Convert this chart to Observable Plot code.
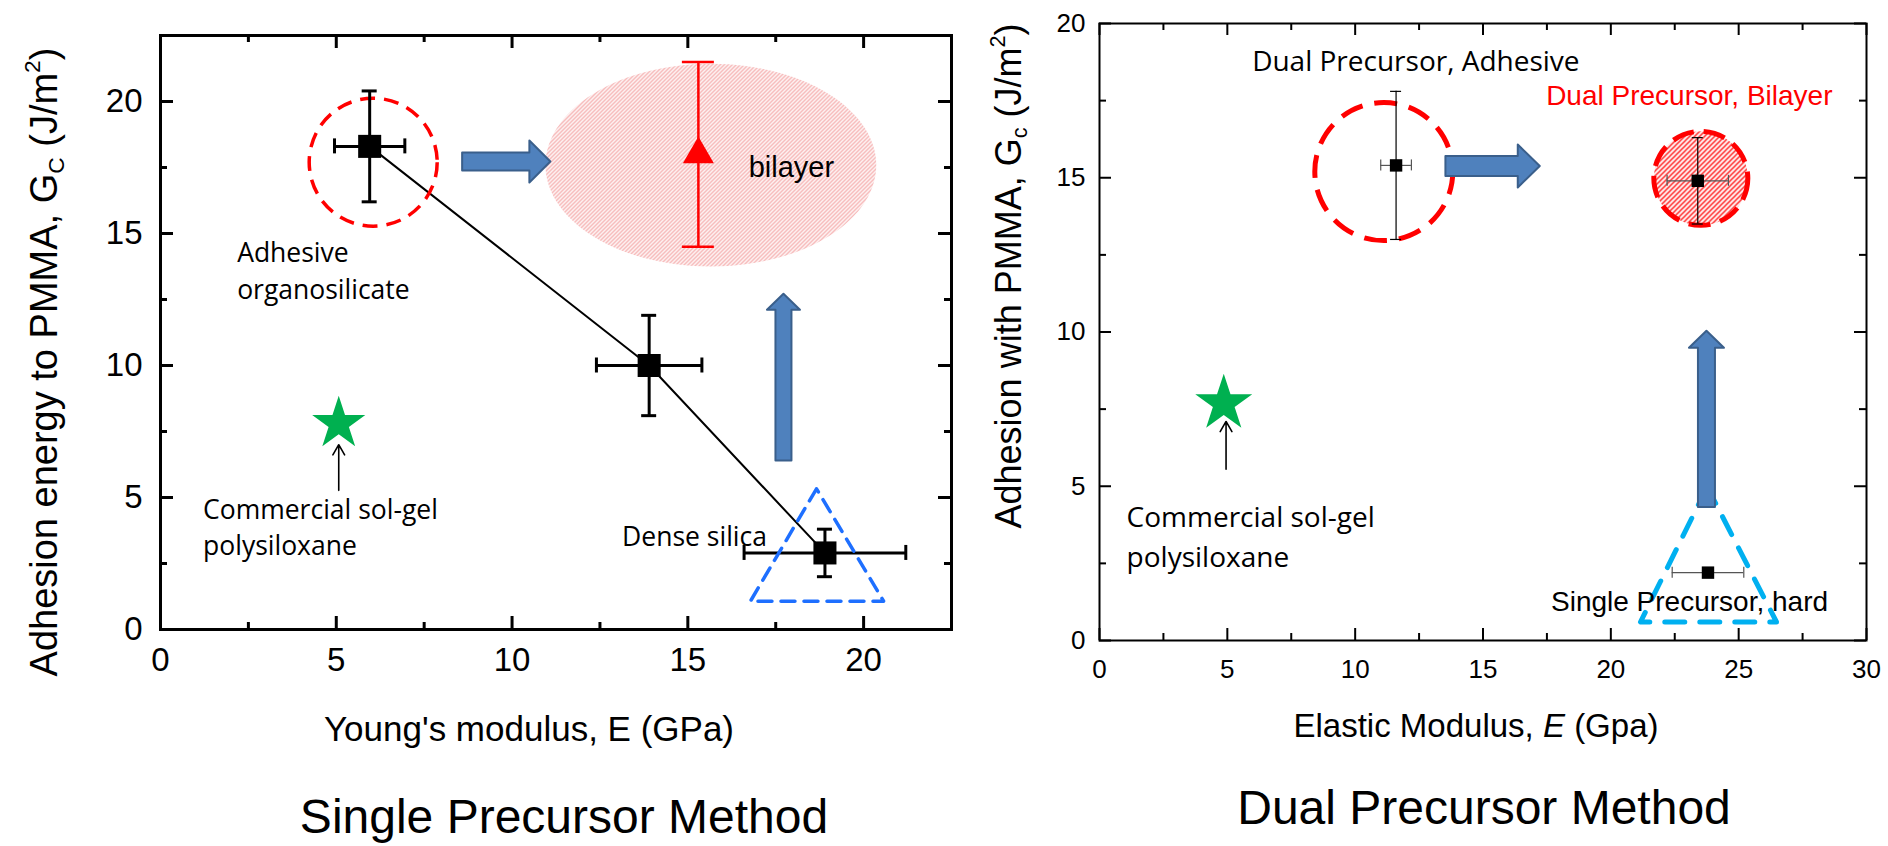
<!DOCTYPE html>
<html>
<head>
<meta charset="utf-8">
<script src="https://cdn.jsdelivr.net/npm/d3@7"></script>
<script src="https://cdn.jsdelivr.net/npm/@observablehq/plot@0.6"></script>
<style>
  html, body { margin: 0; padding: 0; background: #fff; overflow: hidden; }
  #wrap { position: relative; width: 1888px; height: 846px; background: #fff; }
  .panel { position: absolute; top: 0; }
  .lbl { position: absolute; white-space: nowrap; font-family: 'Liberation Sans', Arial, sans-serif; color: #000; line-height: 1; transform: translate(-50%, -50%); }
  .rot { transform: translate(-50%, -50%) rotate(-90deg); }
  .lbl sub, .lbl sup { font-size: 0.6em; line-height: 0; }
  .lbl sub { vertical-align: -0.3em; }
  .lbl sup { vertical-align: 0.75em; }
</style>
</head>
<body>
<div id="wrap">
  <div id="left" class="panel" style="left:0px"></div>
  <div id="right" class="panel" style="left:960px"></div>
  <div class="lbl rot" style="left:44px;top:362px;font-size:38px">Adhesion energy to PMMA, G<sub>C</sub> (J/m<sup>2</sup>)</div>
  <div class="lbl" style="left:529px;top:728px;font-size:35px">Young's modulus, E (GPa)</div>
  <div class="lbl" style="left:564px;top:817px;font-size:48px">Single Precursor Method</div>
  <div class="lbl rot" style="left:1009px;top:276px;font-size:36px">Adhesion with PMMA, G<sub>c</sub> (J/m<sup>2</sup>)</div>
  <div class="lbl" style="left:1476px;top:725px;font-size:33px">Elastic Modulus, <i>E</i> (Gpa)</div>
  <div class="lbl" style="left:1484px;top:808px;font-size:48px">Dual Precursor Method</div>
</div>
<script>
// ---------------- data: Single Precursor Method (left) ----------------
const singleE = [5.95, 13.9, 18.9];
const singleG = [18.3, 10.0, 2.9];
const singleEerr = [1.0, 1.5, 2.3];
const singleGerr = [2.1, 1.9, 0.9];
const bilayerE = [15.3];
const bilayerG = [18.0];
const bilayerGerr = [3.5];
const bilayerRegionE = [10.95, 20.36];
const bilayerRegionG = [13.75, 21.43];
const adhesiveRingLeft = [{E: 6.05, G: 17.7}];
const solgelLeft = [{E: 5.07, G: 7.8}];
const solgelPointerLeft = [{E: 5.07, G1: 5.27, G2: 7.0}];
const denseTriangleE = [18.66, 16.78, 20.57];
const denseTriangleG = [5.33, 1.07, 1.07];
const blockArrowsLeft = [
  {x1: 8.58, y1: 17.73, x2: 11.09, y2: 17.73},
  {x1: 17.72, y1: 6.4, x2: 17.72, y2: 12.72}
];
const notesLeftText = ["Adhesive\norganosilicate", "Commercial sol-gel\npolysiloxane", "Dense silica"];
const notesLeftE = [2.18, 1.21, 13.13];
const notesLeftG = [13.67, 3.94, 3.62];
const bilayerNote = [{text: "bilayer", E: 16.73, G: 17.5}];
const leftMajor = [0, 5, 10, 15, 20];
const leftMinor = [2.5, 7.5, 12.5, 17.5];

// ---------------- data: Dual Precursor Method (right) ----------------
const dualE = [11.6, 23.4, 23.8];
const dualG = [15.4, 14.9, 2.2];
const dualEerr = [0.6, 1.2, 1.4];
const dualGerr = [2.4, 1.4, 0];
const adhesiveRingRight = [{E: 11.12, G: 15.2}];
const bilayerRingRight = [{E: 23.52, G: 14.98}];
const solgelRight = [{E: 4.86, G: 7.68}];
const solgelPointerRight = [{E: 4.95, G1: 5.55, G2: 7.1}];
const hardTriangleE = [23.77, 21.16, 26.48];
const hardTriangleG = [4.98, 0.6, 0.6];
const blockArrowsRight = [
  {x1: 13.53, y1: 15.38, x2: 17.22, y2: 15.38},
  {x1: 23.74, y1: 4.33, x2: 23.74, y2: 10.04}
];
const notesRightText = ["Dual Precursor, Adhesive", "Commercial sol-gel\npolysiloxane"];
const notesRightE = [5.97, 1.06];
const notesRightG = [18.87, 3.45];
const notesRightArialText = ["Dual Precursor, Bilayer", "Single Precursor, hard"];
const notesRightArialE = [17.47, 17.66];
const notesRightArialG = [17.64, 1.25];
const rightXMajor = [0, 5, 10, 15, 20, 25, 30];
const rightXMinor = [2.5, 7.5, 12.5, 17.5, 22.5, 27.5];
const rightYMajor = [0, 5, 10, 15, 20];
const rightYMinor = [2.5, 7.5, 12.5, 17.5];

// ---------------- helpers ----------------
const ARIAL = "'Liberation Sans', Arial, sans-serif";
const CALIBRI = "'Open Sans', 'Noto Sans', sans-serif";
const ARROW_FILL = "#4f81bd", ARROW_STROKE = "#3a5f8b";

function zipPts(E, G, Ee, Ge) {
  return E.map((e, i) => ({E: e, G: G[i], Ee: Ee ? Ee[i] : 0, Ge: Ge ? Ge[i] : 0}));
}
function polygon(E, G) { return E.map((e, i) => ({E: e, G: G[i]})); }
function ellipse(rangeE, rangeG) {
  const cx = (rangeE[0] + rangeE[1]) / 2, cy = (rangeG[0] + rangeG[1]) / 2;
  const rx = (rangeE[1] - rangeE[0]) / 2, ry = (rangeG[1] - rangeG[0]) / 2;
  return d3.range(0, 360, 3).map(a => ({E: cx + rx * Math.cos(a * Math.PI / 180), G: cy + ry * Math.sin(a * Math.PI / 180)}));
}
// block arrow outline built from start/end in data space; widths in px
function blockArrow(id, a, k, shaft, headW, headL) {
  const dx = (a.x2 - a.x1) * k.x, dy = (a.y2 - a.y1) * k.y;
  const L = Math.hypot(dx, dy), ux = dx / L, uy = dy / L, nx = -uy, ny = ux;
  const s = shaft / 2, h = headW / 2, b = L - headL;
  const p = [[nx*s, ny*s], [ux*b + nx*s, uy*b + ny*s], [ux*b + nx*h, uy*b + ny*h], [ux*L, uy*L],
             [ux*b - nx*h, uy*b - ny*h], [ux*b - nx*s, uy*b - ny*s], [-nx*s, -ny*s]];
  return p.map(([px, py]) => ({id, E: a.x1 + px / k.x, G: a.y1 + py / k.y}));
}
// inward ticks on all four sides
function frameTicks(xs, ys, dx, dy, k, len, sw) {
  const tx = len / k.y, ty = len / k.x;
  return [
    Plot.ruleX(xs, {x: d => d, y1: dy[0], y2: dy[0] + tx, strokeWidth: sw}),
    Plot.ruleX(xs, {x: d => d, y1: dy[1], y2: dy[1] - tx, strokeWidth: sw}),
    Plot.ruleY(ys, {y: d => d, x1: dx[0], x2: dx[0] + ty, strokeWidth: sw}),
    Plot.ruleY(ys, {y: d => d, x1: dx[1], x2: dx[1] - ty, strokeWidth: sw})
  ];
}
function errorBars(pts, k, capPx, sw, strokeV, strokeH) {
  const cx = capPx / 2 / k.x, cy = capPx / 2 / k.y;
  const v = pts.filter(d => d.Ge > 0), h = pts.filter(d => d.Ee > 0);
  return [
    Plot.ruleX(v, {x: "E", y1: d => d.G - d.Ge, y2: d => d.G + d.Ge, stroke: strokeV, strokeWidth: sw}),
    Plot.ruleY(v, {y: d => d.G + d.Ge, x1: d => d.E - cx, x2: d => d.E + cx, stroke: strokeV, strokeWidth: sw}),
    Plot.ruleY(v, {y: d => d.G - d.Ge, x1: d => d.E - cx, x2: d => d.E + cx, stroke: strokeV, strokeWidth: sw}),
    Plot.ruleY(h, {y: "G", x1: d => d.E - d.Ee, x2: d => d.E + d.Ee, stroke: strokeH, strokeWidth: sw}),
    Plot.ruleX(h, {x: d => d.E + d.Ee, y1: d => d.G - cy, y2: d => d.G + cy, stroke: strokeH, strokeWidth: sw}),
    Plot.ruleX(h, {x: d => d.E - d.Ee, y1: d => d.G - cy, y2: d => d.G + cy, stroke: strokeH, strokeWidth: sw})
  ];
}
function addDefs(svg, html) {
  d3.select(svg).insert("defs", ":first-child").html(html);
}
function swapFill(svg, from, to) {
  svg.querySelectorAll(`[fill="${from}"]`).forEach(el => el.setAttribute("fill", to));
}

// ---------------- left panel ----------------
{
  const W = 960, H = 846, mL = 160, mR = 9, mT = 35, mB = 217;
  const dx = [0, 22.5], dy = [0, 22.5];
  const k = {x: (W - mL - mR) / (dx[1] - dx[0]), y: (H - mT - mB) / (dy[1] - dy[0])};
  const pts = zipPts(singleE, singleG, singleEerr, singleGerr);
  const bil = zipPts(bilayerE, bilayerG, null, bilayerGerr);
  const arrows = blockArrowsLeft.flatMap((a, i) => i === 0 ? blockArrow(i, a, k, 18, 42, 21) : blockArrow(i, a, k, 16, 33, 16));
  const notes = notesLeftText.map((t, i) => ({text: t, E: notesLeftE[i], G: notesLeftG[i]}));

  const svg = Plot.plot({
    width: W, height: H, marginLeft: mL, marginRight: mR, marginTop: mT, marginBottom: mB,
    x: {domain: dx}, y: {domain: dy},
    style: {fontFamily: ARIAL, background: "transparent", color: "#000", overflow: "visible"},
    marks: [
      Plot.line(ellipse(bilayerRegionE, bilayerRegionG), {x: "E", y: "G", curve: "linear-closed", fill: "#fe0001", stroke: "none"}),
      Plot.line(pts, {x: "E", y: "G", stroke: "#000", strokeWidth: 2}),
      Plot.dot(adhesiveRingLeft, {x: "E", y: "G", r: 64, fill: "none", stroke: "#ff0000", strokeWidth: 3.5, strokeDasharray: "15,9"}),
      ...errorBars(pts, k, 15, 3, "#000", "#000"),
      Plot.dot(pts, {x: "E", y: "G", symbol: "square", r: 13, fill: "#000", stroke: "none"}),
      ...errorBars(bil, k, 32, 2.5, "#ff0000", "#ff0000"),
      Plot.dot(bil, {x: "E", y: "G", symbol: "triangle", r: 11.5, fill: "#ff0000", stroke: "none"}),
      Plot.line(arrows, {x: "E", y: "G", z: "id", curve: "linear-closed", fill: ARROW_FILL, stroke: ARROW_STROKE, strokeWidth: 2}),
      Plot.line(polygon(denseTriangleE, denseTriangleG), {x: "E", y: "G", curve: "linear-closed", stroke: "#1e6fff", strokeWidth: 3.5, strokeDasharray: "14,9"}),
      Plot.dot(solgelLeft, {x: "E", y: "G", symbol: "star", r: 16.7, fill: "#00b050", stroke: "none"}),
      Plot.arrow(solgelPointerLeft, {x: "E", y1: "G1", y2: "G2", stroke: "#000", strokeWidth: 1.6, headLength: 11}),
      Plot.text(notes, {x: "E", y: "G", text: "text", textAnchor: "start", lineAnchor: "middle", lineHeight: 1.38, fontSize: 26.5, fontFamily: CALIBRI, fill: "#000"}),
      Plot.text(bilayerNote, {x: "E", y: "G", text: "text", textAnchor: "start", lineAnchor: "middle", fontSize: 29, fontFamily: ARIAL, fill: "#000"}),
      ...frameTicks(leftMajor, leftMajor, dx, dy, k, 13, 3),
      ...frameTicks(leftMinor, leftMinor, dx, dy, k, 7, 3),
      Plot.frame({stroke: "#000", strokeWidth: 3}),
      Plot.axisX(leftMajor, {tickSize: 0, tickPadding: 18, fontSize: 33, label: null, tickFormat: d => String(d)}),
      Plot.axisY(leftMajor, {tickSize: 0, tickPadding: 18, fontSize: 33, label: null, tickFormat: d => String(d)})
    ]
  });
  addDefs(svg, `<pattern id="hatchL" patternUnits="userSpaceOnUse" width="4" height="4"><path d="M-1,1 l2,-2 M0,4 l4,-4 M3,5 l2,-2" stroke="#f29595" stroke-width="1.1"/></pattern>`);
  swapFill(svg, "#fe0001", "url(#hatchL)");
  document.getElementById("left").appendChild(svg);
}

// ---------------- right panel ----------------
{
  const W = 928, H = 846, mL = 139, mR = 22, mT = 23, mB = 206;
  const dx = [0, 30], dy = [0, 20];
  const k = {x: (W - mL - mR) / (dx[1] - dx[0]), y: (H - mT - mB) / (dy[1] - dy[0])};
  const pts = zipPts(dualE, dualG, dualEerr, dualGerr);
  const arrows = blockArrowsRight.flatMap((a, i) => i === 0 ? blockArrow(i, a, k, 20, 43, 22) : blockArrow(i, a, k, 17, 35, 17));
  const notes = notesRightText.map((t, i) => ({text: t, E: notesRightE[i], G: notesRightG[i]}));
  const notesA = notesRightArialText.map((t, i) => ({text: t, E: notesRightArialE[i], G: notesRightArialG[i]}));

  const svg = Plot.plot({
    width: W, height: H, marginLeft: mL, marginRight: mR, marginTop: mT, marginBottom: mB,
    x: {domain: dx}, y: {domain: dy},
    style: {fontFamily: ARIAL, background: "transparent", color: "#000", overflow: "visible"},
    marks: [
      Plot.dot(bilayerRingRight, {x: "E", y: "G", r: 47, fill: "#fe0002", stroke: "none"}),
      Plot.dot(adhesiveRingRight, {x: "E", y: "G", r: 69, fill: "none", stroke: "#ff0000", strokeWidth: 5, strokeDasharray: "23,12"}),
      Plot.dot(bilayerRingRight, {x: "E", y: "G", r: 47, fill: "none", stroke: "#ff0000", strokeWidth: 5, strokeDasharray: "22,10"}),
      ...errorBars(pts, k, 11, 1.2, "#000", "#555"),
      Plot.dot(pts, {x: "E", y: "G", symbol: "square", r: 7, fill: "#000", stroke: "none"}),
      Plot.line(polygon(hardTriangleE, hardTriangleG), {x: "E", y: "G", curve: "linear-closed", stroke: "#00b0f0", strokeWidth: 5, strokeDasharray: "20,15"}),
      Plot.line(arrows, {x: "E", y: "G", z: "id", curve: "linear-closed", fill: ARROW_FILL, stroke: ARROW_STROKE, strokeWidth: 2}),
      Plot.dot(solgelRight, {x: "E", y: "G", symbol: "star", r: 17.9, fill: "#00b050", stroke: "none"}),
      Plot.arrow(solgelPointerRight, {x: "E", y1: "G1", y2: "G2", stroke: "#000", strokeWidth: 1.6, headLength: 11}),
      Plot.text(notes, {x: "E", y: "G", text: "text", textAnchor: "start", lineAnchor: "middle", lineHeight: 1.43, fontSize: 28, fontFamily: CALIBRI, fill: "#000"}),
      Plot.text(notesA, {x: "E", y: "G", text: "text", textAnchor: "start", lineAnchor: "middle", fontSize: 28, fontFamily: ARIAL, fill: (d, i) => i === 0 ? "#ff0000" : "#000"}),
      ...frameTicks(rightXMajor, rightYMajor, dx, dy, k, 12, 2),
      ...frameTicks(rightXMinor, rightYMinor, dx, dy, k, 7, 2),
      Plot.frame({stroke: "#000", strokeWidth: 2}),
      Plot.axisX(rightXMajor, {tickSize: 0, tickPadding: 19, fontSize: 26, label: null, tickFormat: d => String(d)}),
      Plot.axisY(rightYMajor, {tickSize: 0, tickPadding: 14, fontSize: 26, label: null, tickFormat: d => String(d)})
    ]
  });
  addDefs(svg, `<pattern id="hatchR" patternUnits="userSpaceOnUse" width="5" height="5"><rect width="5" height="5" fill="#fff"/><path d="M-1,1 l2,-2 M0,5 l5,-5 M4,6 l2,-2" stroke="#ff0000" stroke-width="1.25"/></pattern>`);
  swapFill(svg, "#fe0002", "url(#hatchR)");
  document.getElementById("right").appendChild(svg);
}
</script>
</body>
</html>
